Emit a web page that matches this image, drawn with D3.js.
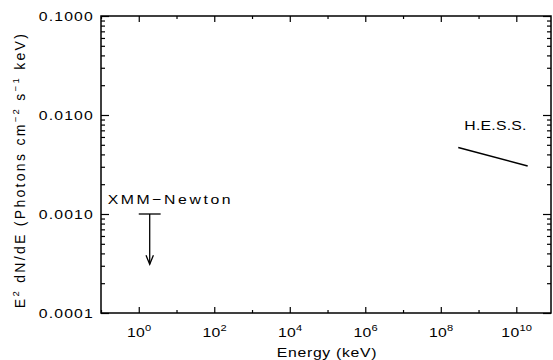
<!DOCTYPE html>
<html>
<head>
<meta charset="utf-8">
<script src="https://cdn.jsdelivr.net/npm/d3@7"></script>
<style>
  body { margin: 0; background: #fff; }
  svg text { font-family: "Liberation Sans", Arial, sans-serif; font-size: 13.5px; fill: #000; letter-spacing: 0.6px; }
  .ylab { letter-spacing: 1px; }
  .xlab { letter-spacing: 0.2px; }
  .ytitle { font-size: 14px; letter-spacing: 2.3px; }
  .xmm { letter-spacing: 2.2px; }
  .hess { letter-spacing: 0.2px; }
</style>
</head>
<body>
<svg width="553" height="360"></svg>
<script>
// axis ticks (decade exponents) and labels
var yMajor = [1e-4, 1e-3, 1e-2, 1e-1];
var yLabels = ["0.0001", "0.0010", "0.0100", "0.1000"];
var xMajorExp = [0, 2, 4, 6, 8, 10];
var xMinorExp = [-1, 1, 3, 5, 7, 9];

// XMM-Newton upper limit (keV, photons cm^-2 s^-1 keV)
var xmmBand = [1.0, 3.8];
var xmmEnergy = 1.95;
var xmmLimit = 1.0e-3;
var xmmArrowEnd = 3.1e-4;

// H.E.S.S. power law
var hessEnergy = [2.9e8, 2.0e10];
var hessFlux = [4.7e-3, 3.05e-3];

var svg = d3.select("svg");
var pLeft = 101, pRight = 551, pTop = 16, pBottom = 313;
var stretch = 1.17; // the original lettering is a bit wider than Arial

var x = d3.scaleLog().domain([0.1, 8.3e10]).range([pLeft, pRight]);
var y = d3.scaleLog().domain([1e-4, 0.1]).range([pBottom, pTop]);

// minor y ticks 2..9 per decade
var yMinor = [];
yMajor.slice(0, 3).forEach(function(d) {
    for (var k = 2; k <= 9; k++) yMinor.push(d * k);
});

function drawAxis(axis, tr) {
    var g = svg.append("g").attr("transform", tr).call(axis);
    g.select(".domain").remove();
    g.selectAll("line").attr("stroke", "#000").attr("stroke-width", 1.2);
    g.selectAll("text").remove();
}

// text placed at (px, py), widened horizontally
function label(px, py, cls, anchor) {
    return svg.append("g")
        .attr("transform", "translate(" + px + "," + py + ") scale(" + stretch + ",1)")
        .append("text")
        .attr("class", cls)
        .attr("text-anchor", anchor || "start");
}

var xMaj = xMajorExp.map(function(e) { return Math.pow(10, e); });
var xMin = xMinorExp.map(function(e) { return Math.pow(10, e); });

drawAxis(d3.axisBottom(x).tickValues(xMaj).tickSizeInner(-6).tickSizeOuter(0), "translate(0," + pBottom + ")");
drawAxis(d3.axisBottom(x).tickValues(xMin).tickSizeInner(-3).tickSizeOuter(0), "translate(0," + pBottom + ")");
drawAxis(d3.axisTop(x).tickValues(xMaj).tickSizeInner(-6).tickSizeOuter(0), "translate(0," + pTop + ")");
drawAxis(d3.axisTop(x).tickValues(xMin).tickSizeInner(-3).tickSizeOuter(0), "translate(0," + pTop + ")");
drawAxis(d3.axisLeft(y).tickValues(yMajor).tickSizeInner(-8).tickSizeOuter(0), "translate(" + pLeft + ",0)");
drawAxis(d3.axisLeft(y).tickValues(yMinor).tickSizeInner(-4).tickSizeOuter(0), "translate(" + pLeft + ",0)");
drawAxis(d3.axisRight(y).tickValues(yMajor).tickSizeInner(-8).tickSizeOuter(0), "translate(" + pRight + ",0)");
drawAxis(d3.axisRight(y).tickValues(yMinor).tickSizeInner(-4).tickSizeOuter(0), "translate(" + pRight + ",0)");

// frame
svg.append("rect")
    .attr("x", pLeft).attr("y", pTop)
    .attr("width", pRight - pLeft).attr("height", pBottom - pTop)
    .attr("fill", "none").attr("stroke", "#000").attr("stroke-width", 1.5);

// y tick labels
yMajor.forEach(function(d, i) {
    label(94, y(d) + 5, "ylab", "end").text(yLabels[i]);
});

// x tick labels 10^n
xMajorExp.forEach(function(d) {
    var t = label(x(Math.pow(10, d)) + 0.5, 337, "xlab", "middle");
    t.append("tspan").text("10");
    t.append("tspan").attr("dy", -6).style("font-size", "9.5px").text(d);
});

// axis titles
label((pLeft + pRight) / 2 + 1, 357, "xtitle", "middle").text("Energy (keV)");

var yt = svg.append("text")
    .attr("class", "ytitle")
    .attr("transform", "translate(25," + 170 + ") rotate(-90)")
    .attr("text-anchor", "middle");
yt.append("tspan").text("E");
yt.append("tspan").attr("dy", -6).style("font-size", "9.5px").text("2");
yt.append("tspan").attr("dy", 6).text(" dN/dE  (Photons cm");
yt.append("tspan").attr("dy", -6).style("font-size", "9.5px").text("\u22122");
yt.append("tspan").attr("dy", 6).text("  s");
yt.append("tspan").attr("dy", -6).style("font-size", "9.5px").text("\u22121");
yt.append("tspan").attr("dy", 6).text("  keV)");

// XMM-Newton upper limit
svg.append("line")
    .attr("x1", x(xmmBand[0])).attr("x2", x(xmmBand[1]))
    .attr("y1", y(xmmLimit)).attr("y2", y(xmmLimit))
    .attr("stroke", "#000").attr("stroke-width", 1.3);
svg.append("line")
    .attr("x1", x(xmmEnergy)).attr("x2", x(xmmEnergy))
    .attr("y1", y(xmmLimit)).attr("y2", y(xmmArrowEnd))
    .attr("stroke", "#000").attr("stroke-width", 1.3);
var tipX = x(xmmEnergy), tipY = y(xmmArrowEnd);
svg.append("path")
    .attr("d", "M" + (tipX - 3.7) + "," + (tipY - 9) + "L" + tipX + "," + tipY + "L" + (tipX + 3.7) + "," + (tipY - 9))
    .attr("fill", "none").attr("stroke", "#000").attr("stroke-width", 1.3);
label(x(xmmBand[0]) - 31, y(xmmLimit) - 10, "xmm").text("XMM\u2212Newton");

// H.E.S.S. spectrum
svg.append("path")
    .datum(hessEnergy.map(function(e, i) { return [e, hessFlux[i]]; }))
    .attr("d", d3.line().x(function(d) { return x(d[0]); }).y(function(d) { return y(d[1]); }))
    .attr("fill", "none").attr("stroke", "#000").attr("stroke-width", 1.5);
label(x(hessEnergy[0]) + 6, y(hessFlux[0]) - 17, "hess").text("H.E.S.S.");
</script>
</body>
</html>
